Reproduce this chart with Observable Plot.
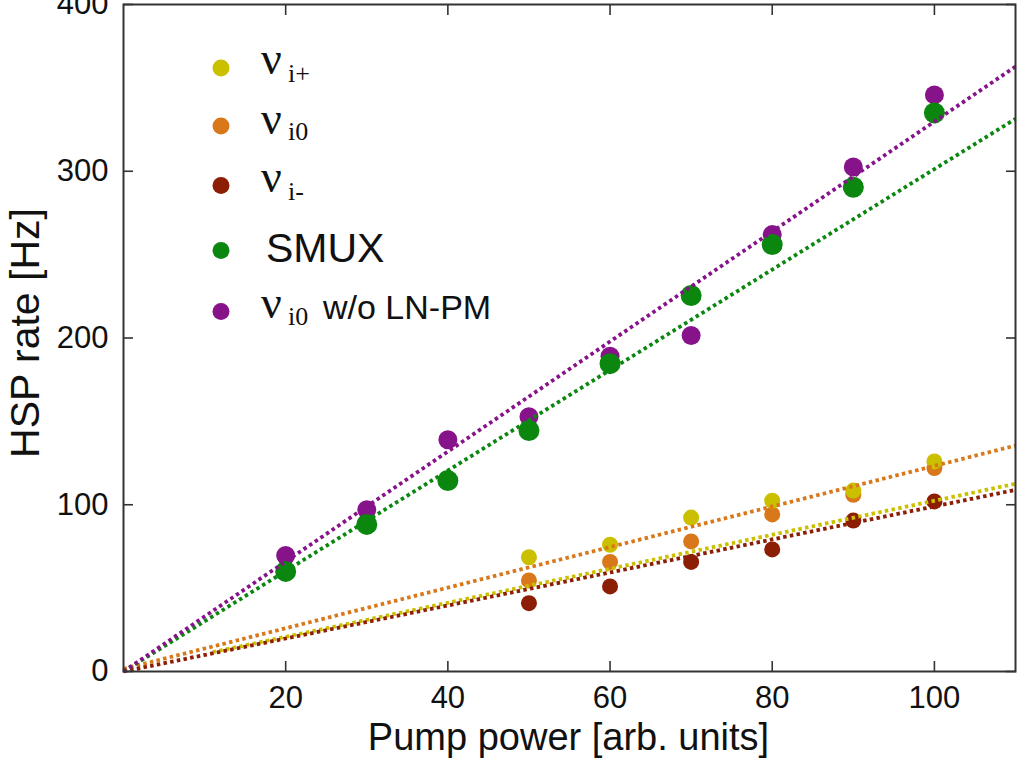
<!DOCTYPE html>
<html><head><meta charset="utf-8">
<script src="https://cdn.jsdelivr.net/npm/d3@7"></script>
<script src="https://cdn.jsdelivr.net/npm/@observablehq/plot@0.6"></script>
<style>body{margin:0;background:#fff} #chart{width:1020px;height:759px}</style>
</head><body><div id="chart"></div>
<script>
// ---- data ----
const power = [20, 30, 40, 50, 60, 70, 80, 90, 100];
const powerSub = [50, 60, 70, 80, 90, 100];
const nuPlus = [68.5, 76, 92.3, 102.4, 108.5, 126];
const nuZero = [54.6, 65.7, 78, 94.2, 106, 122];
const nuMinus = [41, 51, 65.7, 73.2, 90.5, 102];
const smux = [60, 88.2, 114.5, 144.5, 184.6, 225.5, 256, 290.4, 335];
const nuZeroNoPM = [69.6, 97, 139, 152.8, 189, 201.5, 262, 302.6, 345.8];
const seriesKeys = ["nuPlus", "nuZero", "nuMinus", "smux", "nuZeroNoPM"];
const fitSlope = [1.02, 1.217, 0.99, 3.013, 3.298];
const fitIntercept = [0.4, 1.6, 0, 0, 0];
const fitStart = [11, 0, 0, 0, 0];
const fitEnd = 110;
const xTicks = [20, 40, 60, 80, 100];
const yTicks = [0, 100, 200, 300, 400];
const xLabel = "Pump power [arb. units]";
const yLabel = "HSP rate [Hz]";

// ---- styles ----
const colors = {
  nuPlus: "#cbc000",
  nuZero: "#d9781a",
  nuMinus: "#8c1e05",
  smux: "#0b870f",
  nuZeroNoPM: "#87138a"
};
const radius = {nuPlus: 8, nuZero: 8, nuMinus: 8, smux: 10.5, nuZeroNoPM: 9.5};
const sans = "'Liberation Sans', Arial, sans-serif";
const serif = "'Liberation Serif', 'Times New Roman', serif";

const seriesData = {
  nuPlus: powerSub.map((x, i) => ({x, y: nuPlus[i]})),
  nuZero: powerSub.map((x, i) => ({x, y: nuZero[i]})),
  nuMinus: powerSub.map((x, i) => ({x, y: nuMinus[i]})),
  smux: power.map((x, i) => ({x, y: smux[i]})),
  nuZeroNoPM: power.map((x, i) => ({x, y: nuZeroNoPM[i]}))
};
const fitLines = seriesKeys.map((k, i) => [
  {x: fitStart[i], y: fitSlope[i] * fitStart[i] + fitIntercept[i]},
  {x: fitEnd, y: fitSlope[i] * fitEnd + fitIntercept[i]}
]);

const drawOrder = ["nuZero", "nuMinus", "nuPlus", "nuZeroNoPM", "smux"];
const lineOrder = ["nuZero", "nuPlus", "nuMinus", "smux", "nuZeroNoPM"];

const svg = Plot.plot({
  width: 1020,
  height: 759,
  marginLeft: 123,
  marginRight: 5,
  marginTop: 4,
  marginBottom: 88,
  x: {domain: [0, 110]},
  y: {domain: [0, 400]},
  style: {fontFamily: sans, background: "#fff", color: "#111"},
  marks: [
    ...drawOrder.map(k => Plot.dot(seriesData[k], {x: "x", y: "y", r: radius[k], fill: colors[k], stroke: "none"})),
    ...lineOrder.map(k => Plot.line(fitLines[seriesKeys.indexOf(k)], {
      x: "x", y: "y", stroke: colors[k], strokeWidth: 3.8, strokeDasharray: "3.5 3.3", strokeLinecap: "butt"
    })),
    Plot.axisX({ticks: xTicks, anchor: "bottom", tickSize: -10, tickPadding: 24, label: null, fontSize: 31, fontFamily: sans, stroke: "#333", strokeWidth: 1.6, fill: "#111"}),
    Plot.axisX({ticks: xTicks, anchor: "top", tickSize: -10, tickFormat: () => "", label: null, stroke: "#333", strokeWidth: 1.6}),
    Plot.axisY({ticks: yTicks, anchor: "left", tickSize: -10, tickPadding: 25, label: null, fontSize: 31, fontFamily: sans, stroke: "#333", strokeWidth: 1.6, fill: "#111"}),
    Plot.axisY({ticks: yTicks, anchor: "right", tickSize: -10, tickFormat: () => "", label: null, stroke: "#333", strokeWidth: 1.6}),
    Plot.frame({stroke: "#333", strokeWidth: 2}),
    Plot.text([xLabel], {text: d => d, frameAnchor: "bottom", textAnchor: "middle", dx: -1, dy: 78, fontSize: 38, fontFamily: sans, fill: "#111"}),
    Plot.text([yLabel], {text: d => d, frameAnchor: "left", textAnchor: "middle", rotate: -90, dx: -98, dy: -5, fontSize: 41, fontFamily: sans, fill: "#111"})
  ]
});

// ---- legend (inside plot, top-left) ----
const g = d3.select(svg).append("g").attr("class", "legend").attr("text-anchor", "start");
const legendRows = [
  {k: "nuPlus", dotY: 68, base: 74, sub: "i+", subBase: 82},
  {k: "nuZero", dotY: 126, base: 134, sub: "i0", subBase: 140},
  {k: "nuMinus", dotY: 185.5, base: 192, sub: "i-", subBase: 200},
  {k: "smux", dotY: 250.5, base: 262, plain: "SMUX"},
  {k: "nuZeroNoPM", dotY: 311.5, base: 318, sub: "i0", subBase: 325, extra: "w/o LN-PM"}
];
for (const row of legendRows) {
  g.append("circle").attr("cx", 221).attr("cy", row.dotY).attr("r", 8.5).attr("fill", colors[row.k]);
  if (row.plain) {
    g.append("text").attr("x", 266).attr("y", row.base).attr("text-anchor", "start").attr("font-family", sans).attr("font-size", 41).attr("fill", "#111").text(row.plain);
  } else {
    const t = g.append("text").attr("x", 261).attr("y", row.base).attr("text-anchor", "start").attr("font-family", serif).attr("font-size", 46).attr("fill", "#111");
    t.append("tspan").text("ν");
    t.append("tspan").attr("x", 288).attr("y", row.subBase).attr("font-size", 26).text(row.sub);
    if (row.extra) {
      g.append("text").attr("x", 323).attr("y", 319).attr("text-anchor", "start").attr("font-family", sans).attr("font-size", 34).attr("fill", "#111").text(row.extra);
    }
  }
}

document.getElementById("chart").appendChild(svg);
</script>
</body></html>
